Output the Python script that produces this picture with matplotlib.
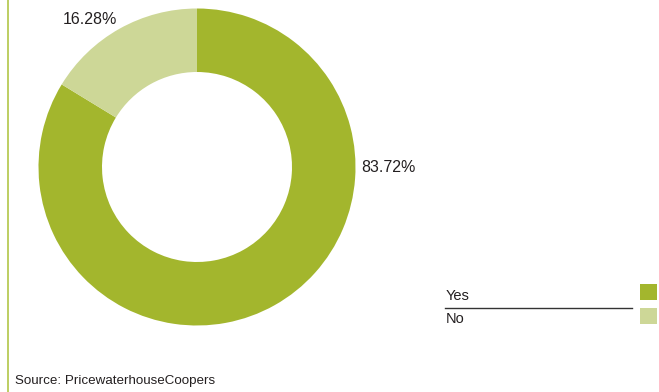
import matplotlib.pyplot as plt
from matplotlib.patches import Rectangle

plt.rcParams['font.family'] = ['Liberation Sans', 'DejaVu Sans']

labels = ['Yes', 'No']
shares = [83.72, 16.28]
colors = ['#a3b62d', '#cdd797']
source = 'Source: PricewaterhouseCoopers'

W, H = 659, 392
fig = plt.figure(figsize=(W / 100, H / 100), dpi=100)
ax = fig.add_axes([0, 0, 1, 1])

# donut, clockwise from 12 o'clock
cx, cy, r_out, r_in = 197, H - 167, 158.5, 95
wedges, _ = ax.pie(shares, colors=colors, startangle=90, counterclock=False,
                   radius=r_out, center=(cx, cy),
                   wedgeprops=dict(width=r_out - r_in, linewidth=0))

ax.text(361, cy, f'{shares[0]:.2f}%', fontsize=11.5, color='#231f20',
        ha='left', va='center')
ax.text(90, H - 19, f'{shares[1]:.2f}%', fontsize=11.5, color='#231f20',
        ha='center', va='center')

# legend on the right
ax.text(446, H - 296, labels[0], fontsize=10.5, color='#231f20', ha='left', va='center')
ax.text(446, H - 319, labels[1], fontsize=10.5, color='#231f20', ha='left', va='center')
ax.plot([445, 632], [H - 307.5, H - 307.5], color='#333333', lw=1)
ax.add_patch(Rectangle((640, H - 300), 17, 16, color=colors[0], lw=0))
ax.add_patch(Rectangle((640, H - 324), 17, 16, color=colors[1], lw=0))

# left rule and source
ax.plot([7.7, 7.7], [0, H], color='#b2c648', lw=1.2)
ax.text(15, H - 381, source, fontsize=9.6, color='#231f20', ha='left', va='center')

ax.set_xlim(0, W)
ax.set_ylim(0, H)
ax.set_aspect('auto')
ax.axis('off')

fig.savefig('out.png', dpi=100)
